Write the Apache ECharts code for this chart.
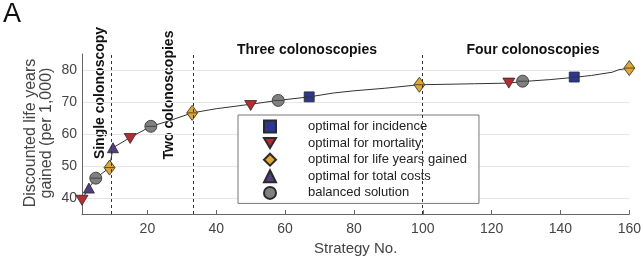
<!DOCTYPE html>
<html>
<head>
<meta charset="utf-8">
<script src="https://cdn.jsdelivr.net/npm/echarts@6/dist/echarts.min.js"></script>
<style>
  html, body { margin: 0; padding: 0; background: #fff; }
  #chart { width: 644px; height: 262px; }
</style>
</head>
<body>
<div id="chart"></div>
<script>
// curve of all strategies (strategy no., life years gained)
const curveX = [1, 3, 5, 9, 10, 15, 21, 26, 33, 40, 50, 58, 67, 74, 80, 89, 99, 105, 115, 125, 129, 137, 144, 149, 155, 157, 160];
const curveY = [39.6, 43.1, 46.2, 49.5, 55.7, 58.9, 62.4, 64.0, 66.6, 67.9, 69.3, 70.5, 71.6, 72.8, 73.5, 74.3, 75.4, 75.5, 75.7, 75.9, 76.4, 77.0, 77.7, 78.3, 79.3, 80.1, 80.6];

// optimal strategies per criterion
const incidenceX = [67, 144];
const incidenceY = [71.6, 77.8];
const mortalityX = [1, 15, 50, 125];
const mortalityY = [39.3, 58.6, 68.9, 75.9];
const lifeYearsX = [9, 33, 99, 160];
const lifeYearsY = [49.5, 66.6, 75.4, 80.6];
const costsX = [3, 10];
const costsY = [43.1, 55.7];
const balancedX = [5, 21, 58, 129];
const balancedY = [46.2, 62.4, 70.5, 76.5];

// colonoscopy count boundaries
const boundaries = [9.4, 33.3, 99.8];

const names = [
  'optimal for incidence',
  'optimal for mortality',
  'optimal for life years gained',
  'optimal for total costs',
  'balanced solution',
];

const zip = (xs, ys) => xs.map((x, i) => [x, ys[i]]);

const chart = echarts.init(document.getElementById('chart'));

const markerBase = {
  type: 'scatter',
  z: 3,
  itemStyle: { borderColor: '#2a2a2a', borderWidth: 0.8, opacity: 1 },
};

const allMarkers = []
  .concat(zip(incidenceX, incidenceY))
  .concat(zip(lifeYearsX, lifeYearsY))
  .concat(zip(balancedX, balancedY));

const noteStyle = { fontSize: 14, fontWeight: 'bold', fill: '#111', align: 'center', verticalAlign: 'middle' };

chart.setOption({
  animation: false,
  textStyle: { fontFamily: 'Liberation Sans, Arial, sans-serif' },
  grid: { left: 82, right: 12, top: 54, bottom: 48 },
  xAxis: {
    type: 'value',
    min: 1,
    max: 160,
    splitNumber: 8,
    name: 'Strategy No.',
    nameLocation: 'middle',
    nameGap: 24,
    nameTextStyle: { fontSize: 15, color: '#444' },
    axisLine: { lineStyle: { color: '#666', width: 1 } },
    axisTick: { inside: true, length: 4, lineStyle: { color: '#666' } },
    axisLabel: { showMinLabel: false, fontSize: 14, color: '#444', margin: 8 },
    splitLine: { show: false },
  },
  yAxis: {
    type: 'value',
    min: 35,
    max: 85,
    axisLine: { show: true, lineStyle: { color: '#666', width: 1 } },
    axisTick: { show: false },
    axisLabel: { showMinLabel: false, showMaxLabel: false, fontSize: 14, color: '#444', margin: 5 },
    splitLine: { showMinLine: false, showMaxLine: false, lineStyle: { color: '#e6e6e6' } },
  },
  legend: {
    data: names,
    orient: 'vertical',
    left: 238,
    top: 115,
    padding: [4, 12, 3, 25],
    itemWidth: 12,
    itemHeight: 12,
    itemGap: 1.6,
    backgroundColor: '#fff',
    borderColor: '#777',
    borderWidth: 1,
    textStyle: { fontSize: 13, color: '#222', padding: [0, 0, 0, 27], lineHeight: 15 },
  },
  graphic: [
    { type: 'text', left: 3, top: 1, style: { text: 'A', fontSize: 27, fill: '#111', fontFamily: 'Liberation Sans' } },
    {
      // y axis title
      type: 'text', x: 39, y: 133, rotation: Math.PI / 2,
      style: {
        text: 'Discounted life years\ngained (per 1,000)', fontSize: 16, lineHeight: 16,
        fill: '#444', align: 'center', verticalAlign: 'middle', fontFamily: 'Liberation Sans',
      },
    },
    { type: 'text', x: 100, y: 93, rotation: Math.PI / 2, style: { text: 'Single colonoscopy', ...noteStyle } },
    { type: 'text', x: 169, y: 95, rotation: Math.PI / 2, style: { text: 'Two colonoscopies', ...noteStyle } },
    { type: 'text', x: 307, y: 50, style: { text: 'Three colonoscopies', ...noteStyle } },
    { type: 'text', x: 533, y: 50, style: { text: 'Four colonoscopies', ...noteStyle } },
  ],
  series: [
    {
      type: 'line',
      data: zip(curveX, curveY),
      symbol: 'none',
      z: 2,
      lineStyle: { color: '#333', width: 1 },
      markLine: {
        silent: true,
        symbol: 'none',
        label: { show: false },
        lineStyle: { color: '#333', type: [3, 3], width: 1 },
        data: boundaries.map((b) => ({ xAxis: b })),
      },
    },
    {
      ...markerBase,
      name: names[0],
      data: zip(incidenceX, incidenceY),
      symbol: 'rect',
      symbolSize: 10,
      itemStyle: { ...markerBase.itemStyle, color: '#2d3791' },
    },
    {
      ...markerBase,
      name: names[1],
      data: zip(mortalityX, mortalityY),
      symbol: 'path://M0,0 L12,0 L6,10 Z',
      symbolSize: [12, 10],
      itemStyle: { ...markerBase.itemStyle, color: '#b82a2f' },
    },
    {
      ...markerBase,
      name: names[2],
      data: zip(lifeYearsX, lifeYearsY),
      symbol: 'diamond',
      symbolSize: [11, 15],
      itemStyle: { ...markerBase.itemStyle, color: '#e2a72e' },
    },
    {
      ...markerBase,
      name: names[3],
      data: zip(costsX, costsY),
      symbol: 'triangle',
      symbolSize: [11, 10],
      itemStyle: { ...markerBase.itemStyle, color: '#523d80' },
    },
    {
      ...markerBase,
      name: names[4],
      data: zip(balancedX, balancedY),
      symbol: 'circle',
      symbolSize: 12,
      itemStyle: { ...markerBase.itemStyle, color: '#808080' },
    },
    {
      // thin dark bar through the markers, like the original error bars
      type: 'scatter',
      silent: true,
      z: 4,
      data: allMarkers,
      symbol: 'rect',
      symbolSize: [10, 1],
      itemStyle: { color: '#333' },
    },
  ],
});
</script>
</body>
</html>
